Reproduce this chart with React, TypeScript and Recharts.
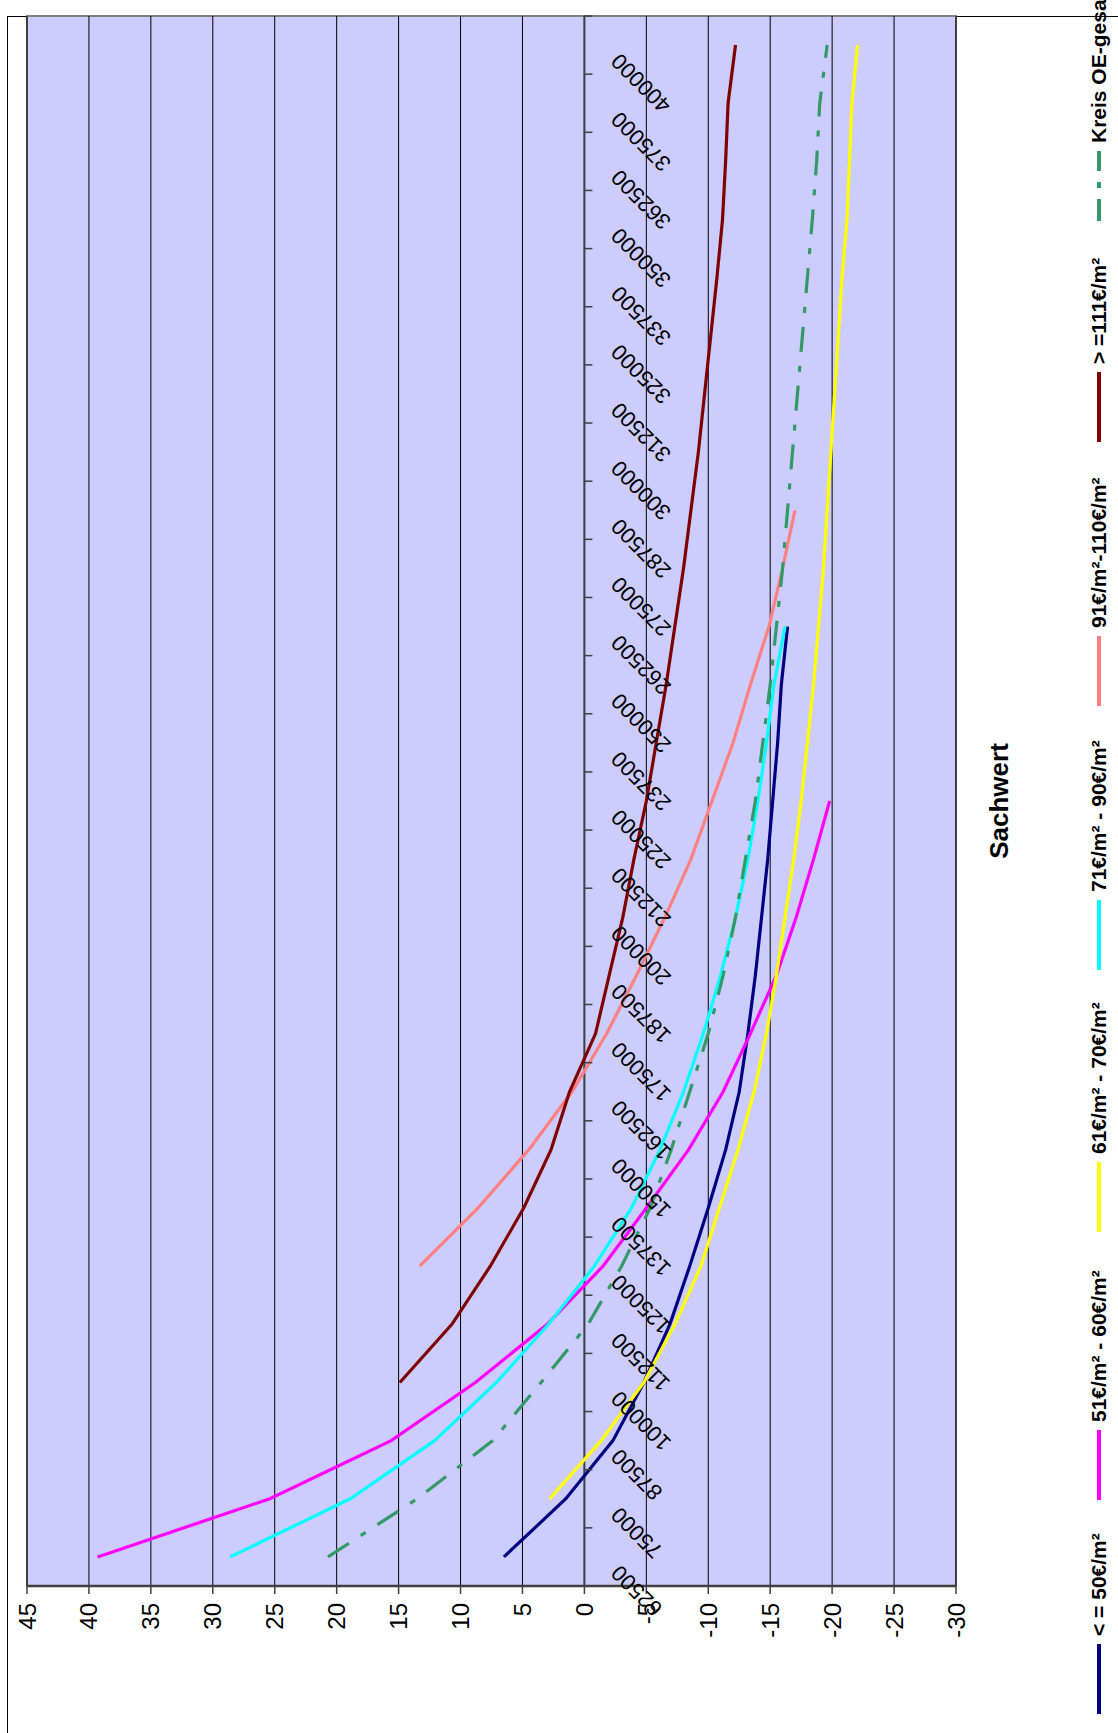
import React from "react";
import { LineChart, Line, XAxis, YAxis, CartesianGrid, ReferenceLine, ReferenceDot } from "recharts";

// Sachwert (category axis, rotated chart)
const categories = [
  62500, 75000, 87500, 100000, 112500, 125000, 137500, 150000, 162500, 175000,
  187500, 200000, 212500, 225000, 237500, 250000, 262500, 275000, 287500, 300000,
  312500, 325000, 337500, 350000, 362500, 375000, 400000,
];

const valueTicks = [45, 40, 35, 30, 25, 20, 15, 10, 5, 0, -5, -10, -15, -20, -25, -30];

const le50 = [6.5, 1.5, -2.3, -4.8, -6.9, -8.5, -10.0, -11.4, -12.5, -13.2, -13.8, -14.3, -14.8, -15.2, -15.6, -15.9, -16.4,
  null, null, null, null, null, null, null, null, null, null];
const s51to60 = [39.3, 25.4, 15.6, 8.8, 3.0, -1.5, -5.0, -8.4, -11.2, -13.4, -15.5, -17.1, -18.5, -19.8,
  null, null, null, null, null, null, null, null, null, null, null, null, null];
const s61to70 = [null, 2.8, -1.35, -4.8, -7.3, -9.4, -10.9, -12.4, -13.7, -14.7, -15.5, -16.2, -16.9, -17.5, -18.0, -18.5,
  -18.9, -19.3, -19.6, -19.9, -20.2, -20.5, -20.8, -21.2, -21.4, -21.6, -22.05];
const s71to90 = [28.6, 18.9, 12.1, 7.1, 2.9, -0.8, -3.8, -6.1, -8.0, -9.6, -11.0, -12.2, -13.2, -14.0, -14.7, -15.3, -16.2,
  null, null, null, null, null, null, null, null, null, null];
const s91to110 = [null, null, null, null, null, 13.3, 8.6, 4.5, 1.0, -1.8, -4.2, -6.5, -8.6, -10.3, -12.0, -13.4, -14.9,
  -16.0, -17.0, null, null, null, null, null, null, null, null];
const ge111 = [null, null, null, 14.9, 10.7, 7.6, 4.9, 2.7, 1.2, -0.9, -2.0, -3.1, -4.0, -5.0, -5.8, -6.6, -7.3, -8.0,
  -8.6, -9.2, -9.7, -10.2, -10.7, -11.15, -11.4, -11.6, -12.2];
const kreis = [20.7, 13.5, 7.4, 3.5, -0.3, -3.0, -5.3, -7.0, -8.5, -10.0, -11.2, -12.2, -13.0, -13.8, -14.4, -15.0, -15.5,
  -16.0, -16.4, -16.8, -17.2, -17.6, -18.0, -18.4, -18.75, -19.0, -19.6];

const seriesNames = [
  "< = 50€/m²",
  "51€/m² - 60€/m²",
  "61€/m² - 70€/m²",
  "71€/m² - 90€/m²",
  "91€/m²-110€/m²",
  "> =111€/m²",
  "Kreis OE-gesamt",
];

const data = categories.map((c, i) => ({
  cat: String(c),
  le50: le50[i],
  s51: s51to60[i],
  s61: s61to70[i],
  s71: s71to90[i],
  s91: s91to110[i],
  ge111: ge111[i],
  kreis: kreis[i],
}));

const seriesStyle = [
  { key: "le50", color: "#000080", dash: undefined },
  { key: "s51", color: "#FF00FF", dash: undefined },
  { key: "s61", color: "#FFFF00", dash: undefined },
  { key: "s71", color: "#00FFFF", dash: undefined },
  { key: "s91", color: "#FF8080", dash: undefined },
  { key: "ge111", color: "#800000", dash: undefined },
  { key: "kreis", color: "#339966", dash: "25 14 6 14" },
];

// layout of the unrotated chart
const W = 1733;
const H = 1118;
const plot = { left: 147, top: 27, right: 16, bottom: 162 };
const halfBand = (W - plot.left - plot.right) / categories.length / 2;
const legendX = [18, 232, 500, 762, 1026, 1290, 1511];
const font = '"Liberation Sans", Arial, sans-serif';

function CategoryTick({ cx, cy, text, last }: any) {
  const tx = cx - 7;
  const ty = cy + 36;
  return (
    <g>
      <line x1={cx - halfBand} y1={cy} x2={cx - halfBand} y2={cy + 8} stroke="#404040" strokeWidth={1.5} />
      {last && <line x1={cx + halfBand} y1={cy} x2={cx + halfBand} y2={cy + 8} stroke="#404040" strokeWidth={1.5} />}
      <text x={tx} y={ty} transform={`rotate(-45 ${tx} ${ty})`} textAnchor="end" fontSize={22} fontFamily={font} fill="#000">
        {text}
      </text>
    </g>
  );
}

export default function App() {
  const plotW = W - plot.left - plot.right;
  const plotH = H - plot.top - plot.bottom;
  return (
    <div style={{ position: "absolute", left: 0, top: 0, width: H, height: W, overflow: "hidden", background: "#fff" }}>
      <div
        style={{
          position: "absolute",
          left: 0,
          top: W,
          width: W,
          height: H,
          transform: "rotate(-90deg)",
          transformOrigin: "0 0",
          fontFamily: font,
        }}
      >
        {/* chart border */}
        <div style={{ position: "absolute", left: -20, top: 7, width: 1737, height: 1200, border: "1.5px solid #000", boxSizing: "border-box" }} />
        {/* plot area */}
        <div
          style={{
            position: "absolute",
            left: plot.left - 1,
            top: plot.top - 1,
            width: plotW + 2,
            height: plotH + 2,
            background: "#CCCCFF",
            border: "2px solid #808080",
            boxSizing: "border-box",
          }}
        />
        <LineChart
          width={W}
          height={H}
          data={data}
          margin={{ top: plot.top, right: plot.right, bottom: plot.bottom, left: plot.left - 60 }}
          style={{ position: "absolute", left: 0, top: 0 }}
        >
          <CartesianGrid vertical={false} stroke="#000" strokeWidth={1} />
          <XAxis dataKey="cat" hide padding={{ left: halfBand, right: halfBand }} />
          <YAxis
            type="number"
            domain={[-30, 45]}
            ticks={valueTicks}
            interval={0}
            width={60}
            tickSize={8}
            tickMargin={9}
            axisLine={{ stroke: "#404040", strokeWidth: 2.5 }}
            tickLine={{ stroke: "#404040", strokeWidth: 1.5 }}
            tick={{ fontSize: 24, fill: "#000", fontFamily: font }}
          />
          <ReferenceLine y={0} stroke="#404040" strokeWidth={2} />
          {categories.map((c, i) => (
            <ReferenceDot
              key={c}
              x={String(c)}
              y={0}
              r={0}
              shape={(p: any) => <CategoryTick cx={p.cx} cy={p.cy} text={String(c)} last={i === categories.length - 1} />}
            />
          ))}
          {seriesStyle.map((s) => (
            <Line
              key={s.key}
              type="linear"
              dataKey={s.key}
              stroke={s.color}
              strokeWidth={3.2}
              strokeDasharray={s.dash}
              dot={false}
              isAnimationActive={false}
            />
          ))}
        </LineChart>
        {/* axis title */}
        <div
          style={{
            position: "absolute",
            left: plot.left,
            width: plotW,
            top: 986,
            textAlign: "center",
            fontSize: 26,
            lineHeight: "26px",
            fontWeight: "bold",
          }}
        >
          Sachwert
        </div>
        {/* legend */}
        {seriesNames.map((n, i) => (
          <div
            key={n}
            style={{
              position: "absolute",
              left: legendX[i],
              top: 1084,
              height: 30,
              display: "flex",
              alignItems: "center",
              whiteSpace: "nowrap",
              fontSize: 21,
              fontWeight: "bold",
            }}
          >
            <svg width={72} height={8} style={{ marginRight: 7 }}>
              <line x1={1} y1={4} x2={71} y2={4} stroke={seriesStyle[i].color} strokeWidth={4} strokeDasharray={seriesStyle[i].dash ? "22 11 6 11" : undefined} />
            </svg>
            {n}
          </div>
        ))}
      </div>
    </div>
  );
}
